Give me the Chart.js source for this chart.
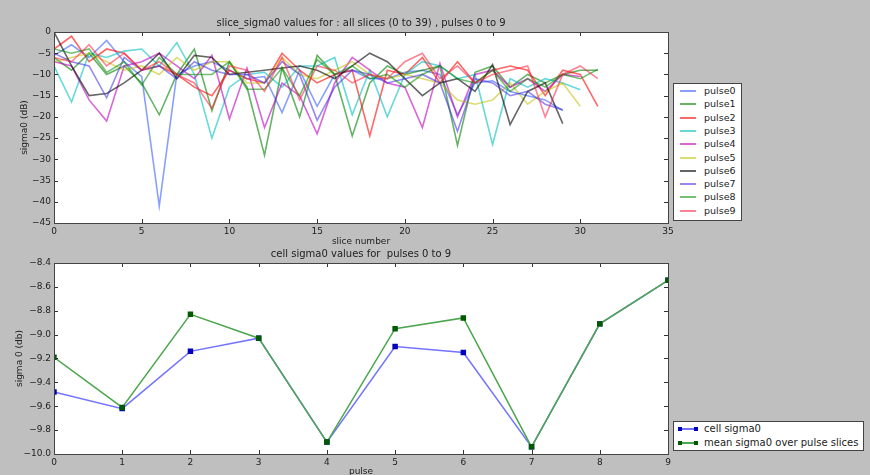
<!DOCTYPE html>
<html><head><meta charset="utf-8">
<script src="https://cdn.jsdelivr.net/npm/chart.js@4.4.1/dist/chart.umd.min.js"></script>
<style>
html,body{margin:0;padding:0;background:#bfbfbf;width:870px;height:475px;overflow:hidden;font-family:"DejaVu Sans",sans-serif;}
canvas{position:absolute;left:0;}
#top{top:0;}
#bot{top:240px;}
.leg{position:absolute;background:#fff;border:1px solid #444;box-sizing:border-box;font-size:9.5px;color:#222;z-index:2;}
#leg2{font-size:10px;}
.row{position:absolute;left:0;height:12px;line-height:12px;white-space:nowrap;}
.sw{position:absolute;top:5px;height:2px;}
.txt{position:absolute;}
.mk{position:absolute;width:4px;height:4px;top:4px;}
</style></head><body>
<canvas id="top" width="722" height="250"></canvas>
<canvas id="bot" width="722" height="240"></canvas>
<div id="leg1" class="leg" style="left:673px;top:83px;width:69px;height:138px;"></div>
<div id="leg2" class="leg" style="left:673px;top:421px;width:191px;height:30px;"></div>
<script>
// ---- top chart data: sigma0 (dB) per slice, one array per pulse ----
const pulse0 = [-5.5,-3,-6,-2,-7,-10.5,-41,-10,-8,-7,-9,-11,-10.5,-19,-9,-17.5,-10,-9,-11,-11,-9.5,-9,-10,-19.5,-12,-11.5,-14,-15,-16,-18.5];
const pulse1 = [-6,-9,-5,-10,-8,-12,-19.5,-10,-4,-18.5,-7,-13,-29,-8.5,-20,-5.5,-10,-24.5,-12,-8,-10,-9,-8,-26.7,-9.5,-8,-13,-10,-12,-10,-9,-9];
const pulse2 = [-4,-1,-7,-4,-5,-9,-8,-10,-13,-15,-9,-11,-12,-5,-9,-12,-10,-9,-24.5,-9,-10,-6,-12,-7,-12,-9,-8,-9,-15,-9,-10,-17.5];
const pulse3 = [-8,-16.5,-5,-6,-4.5,-4,-8,-2.5,-10,-25,-13,-10,-9.5,-13,-8,-8,-6,-19.5,-9,-20,-10,-7,-8,-11,-10,-26.5,-11,-13,-11,-12,-13.6];
const pulse4 = [-7,-8,-16,-21,-8,-7,-5,-8,-11,-5.5,-20.5,-8.5,-22.5,-12,-15,-24,-12,-6,-9,-12,-13,-22.5,-7.4,-20,-10,-9,-13,-11,-14,-10,-10.5];
const pulse5 = [-7,-6,-5,-7,-9,-8,-10,-6,-9,-7,-7,-12,-12,-6,-10,-11,-9,-7,-10,-11,-10,-11,-12,-16,-17,-16,-12,-17,-14,-12,-17.5];
const pulse6 = [0,-8,-15,-14.5,-12,-9,-5,-11,-5.5,-6,-10,-9.5,-9,-8.5,-8,-9,-11,-8,-5,-7,-11,-15,-12,-11,-14,-7.7,-21.8,-14,-12,-21.6];
const pulse7 = [-5,-7,-8,-15.5,-6,-9,-8,-11,-7,-9,-10,-10,-12,-7,-10,-20.8,-13,-9,-10,-12,-11,-10,-12,-23.4,-11,-12,-15,-14,-17,-18.3];
const pulse8 = [-4,-5,-4,-9.5,-7,-12.5,-6,-10,-10,-10,-7,-13.5,-13.5,-8.5,-15,-6.5,-10,-8,-11,-10,-13,-10,-8,-11,-12,-9,-14,-11,-13,-10,-11,-8.8];
const pulse9 = [-6,-7,-3,-8,-5,-9,-7,-10,-12,-18,-8,-9,-14,-6,-16,-8,-9,-12,-10,-11,-7,-5,-11,-8,-12,-10,-9,-8,-20,-10,-8,-11];
const pulseNames = ['pulse0','pulse1','pulse2','pulse3','pulse4','pulse5','pulse6','pulse7','pulse8','pulse9'];
const pulseSeries = [pulse0,pulse1,pulse2,pulse3,pulse4,pulse5,pulse6,pulse7,pulse8,pulse9];

// ---- bottom chart data ----
const pulseIndex = [0,1,2,3,4,5,6,7,8,9];
const cellSigma0 = [-9.48,-9.62,-9.14,-9.03,-9.90,-9.10,-9.15,-9.94,-8.91,-8.545];
const meanSigma0 = [-9.19,-9.61,-8.83,-9.03,-9.90,-8.95,-8.86,-9.94,-8.91,-8.545];

// ---- styles ----
const pulseColors = ['rgba(40,80,255,0.55)','rgba(0,128,0,0.6)','rgba(255,0,0,0.6)','rgba(0,191,191,0.6)','rgba(191,0,191,0.6)',
  'rgba(191,191,0,0.55)','rgba(0,0,0,0.6)','rgba(60,40,230,0.55)','rgba(0,140,0,0.55)','rgba(255,30,60,0.55)'];
const FONT = {family:'"DejaVu Sans", sans-serif', size:9};
const TXT = '#222';
const minus = s => String(s).replace('-', '\u2212');

const frame = {
  id:'frame',
  beforeDraw(c){
    const a=c.chartArea, ctx=c.ctx;
    ctx.save(); ctx.fillStyle='#fff'; ctx.fillRect(a.left,a.top,a.right-a.left,a.bottom-a.top); ctx.restore();
  },
  afterDraw(c){
    const a=c.chartArea, ctx=c.ctx;
    ctx.save();
    ctx.strokeStyle='#333'; ctx.lineWidth=1;
    ctx.beginPath();
    const xs=c.scales.x, ys=c.scales.y;
    xs.ticks.forEach(t=>{const p=Math.round(xs.getPixelForValue(t.value))+0.5;
      ctx.moveTo(p,a.bottom); ctx.lineTo(p,a.bottom-4); ctx.moveTo(p,a.top); ctx.lineTo(p,a.top+4);});
    ys.ticks.forEach(t=>{const p=Math.round(ys.getPixelForValue(t.value))+0.5;
      ctx.moveTo(a.left,p); ctx.lineTo(a.left+4,p); ctx.moveTo(a.right,p); ctx.lineTo(a.right-4,p);});
    ctx.stroke();
    ctx.strokeStyle='#444';
    ctx.strokeRect(Math.round(a.left)+0.5,Math.round(a.top)+0.5,Math.round(a.right-a.left),Math.round(a.bottom-a.top));
    ctx.restore();
  }
};

function axisX(min,max,step,title,titlePadBottom,h){
  return {type:'linear',min,max,ticks:{stepSize:step,font:FONT,color:TXT,padding:3,maxRotation:0,callback:v=>minus(v)},
    grid:{display:false,drawTicks:false},border:{display:false},
    title:{display:true,text:title,font:FONT,color:TXT,padding:{top:0,bottom:titlePadBottom}},
    afterFit(s){s.height=h;}};
}
function axisY(min,max,step,title,titlePadTop,dec){
  return {type:'linear',min,max,ticks:{stepSize:step,font:FONT,color:TXT,padding:3,callback:v=>minus(dec?Number(v).toFixed(dec):Math.round(v))},
    grid:{display:false,drawTicks:false},border:{display:false},
    title:{display:true,text:title,font:FONT,color:TXT,padding:{top:titlePadTop,bottom:0}},
    afterFit(s){s.width=54;}};
}

new Chart(document.getElementById('top'),{
  type:'line',
  data:{datasets:pulseSeries.map((arr,i)=>({label:pulseNames[i],data:arr.map((v,k)=>({x:k,y:v})),
    borderColor:pulseColors[i],backgroundColor:pulseColors[i],borderWidth:1.6,pointRadius:0,tension:0,fill:false,order:10-i}))},
  options:{responsive:false,animation:false,devicePixelRatio:1,
    layout:{padding:{top:10,right:54,left:0,bottom:0}},
    plugins:{legend:{display:false},tooltip:{enabled:false},
      title:{display:true,fullSize:false,text:'slice_sigma0 values for : all slices (0 to 39) , pulses 0 to 9',font:{family:FONT.family,size:10,weight:'normal'},color:TXT,padding:{top:7,bottom:3}}},
    scales:{x:axisX(0,35,5,'slice number',3,27),y:axisY(-45,0,5,'sigma0 (dB)',19,0)}},
  plugins:[frame]
});

new Chart(document.getElementById('bot'),{
  type:'line',
  data:{datasets:[
    {label:'cell sigma0',data:cellSigma0.map((v,k)=>({x:pulseIndex[k],y:v})),borderColor:'#7373ff',backgroundColor:'#0000c0',
      pointBackgroundColor:'#0000c0',pointBorderColor:'#0000c0',pointStyle:'rect',pointRadius:2.8,borderWidth:1.5,tension:0,order:2},
    {label:'mean sigma0 over pulse slices',data:meanSigma0.map((v,k)=>({x:pulseIndex[k],y:v})),borderColor:'#4da64d',backgroundColor:'#005a00',
      pointBackgroundColor:'#005a00',pointBorderColor:'#005a00',pointStyle:'rect',pointRadius:2.8,borderWidth:1.5,tension:0,order:1}
  ]},
  options:{responsive:false,animation:false,devicePixelRatio:1,
    layout:{padding:{top:2,right:54,left:0,bottom:0}},
    plugins:{legend:{display:false},tooltip:{enabled:false},
      title:{display:true,fullSize:false,text:'cell sigma0 values for  pulses 0 to 9',font:{family:FONT.family,size:10,weight:'normal'},color:TXT,padding:{top:6,bottom:3}}},
    scales:{x:axisX(0,9,1,'pulse',2.6,26),y:axisY(-10,-8.4,0.2,'sigma 0 (db)',14,1)}},
  plugins:[frame]
});

// ---- HTML legends built from the series names/colours ----
const leg1=document.getElementById('leg1');
pulseNames.forEach((n,i)=>{
  const r=document.createElement('div'); r.className='row'; r.style.top=(1+i*13.3)+'px';
  r.innerHTML='<span class="sw" style="left:6px;width:16px;background:'+pulseColors[i]+'"></span><span class="txt" style="left:30px">'+n+'</span>';
  leg1.appendChild(r);
});
const leg2=document.getElementById('leg2');
[['cell sigma0','#7373ff','#0000c0'],['mean sigma0 over pulse slices','#4da64d','#005a00']].forEach((e,i)=>{
  const r=document.createElement('div'); r.className='row'; r.style.top=(1+i*14)+'px';
  r.innerHTML='<span class="sw" style="left:6px;width:16px;height:1.5px;background:'+e[1]+'"></span>'+
    '<span class="mk" style="left:4px;background:'+e[2]+'"></span><span class="mk" style="left:20px;background:'+e[2]+'"></span>'+
    '<span class="txt" style="left:30px">'+e[0]+'</span>';
  leg2.appendChild(r);
});
</script>
</body></html>
